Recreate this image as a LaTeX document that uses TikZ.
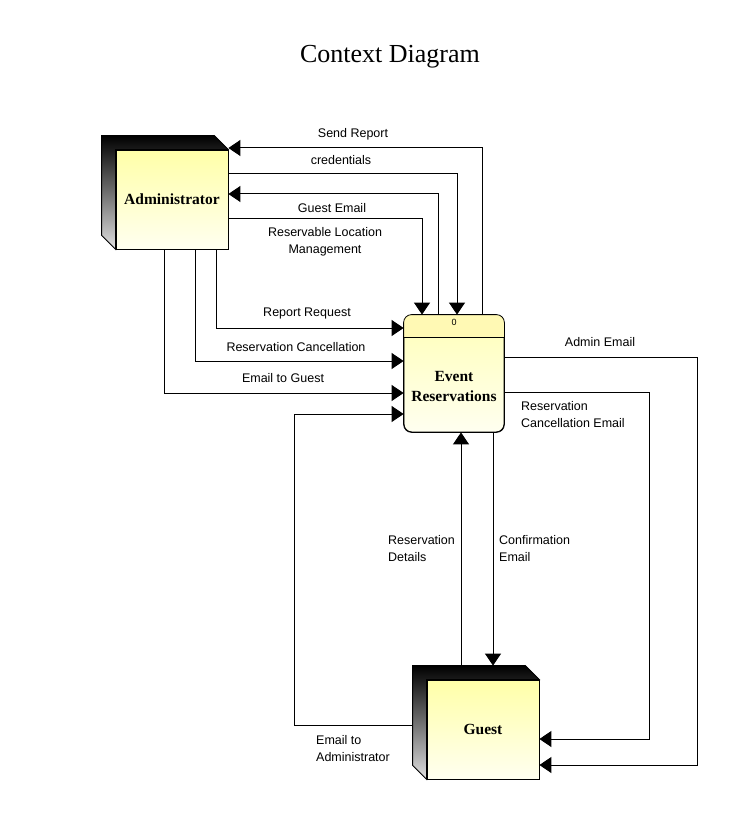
\documentclass[tikz,border=0pt]{standalone}
\usepackage{fontspec}
\setmainfont{Liberation Serif}
\setsansfont{Liberation Sans}
\usetikzlibrary{arrows.meta}

\definecolor{enttop}{HTML}{FFFFA8}
\definecolor{entbot}{HTML}{FFFFF0}
\definecolor{prochead}{HTML}{FFF9B4}
\definecolor{proctop}{HTML}{FFFFB8}

\begin{document}
\begin{tikzpicture}[x=1pt, y=-1pt,
	flow/.style={line width=1pt, -{Triangle[length=12pt,width=16pt]}},
	entity/.style={draw, line width=0.8pt, top color=enttop, bottom color=entbot,
		minimum width=112pt, minimum height=99pt, inner sep=0pt,
		font=\fontsize{15.5}{18}\selectfont\bfseries},
	side/.style={draw, line width=0.8pt, top color=black, bottom color=black!12},
	lbl/.style={font=\sffamily\fontsize{12.5}{17}\selectfont, align=center, inner sep=0pt},
	lbll/.style={lbl, align=left, anchor=west}]

		\useasboundingbox (0,0) rectangle (752,818);

		% Title
		\node[font=\fontsize{26}{30}\selectfont] (title) at (390,57) {Context Diagram};

		% External entity: Administrator
		\node[entity] (admin) at (172,199.5) {Administrator};
		\shadedraw[side] ([shift={(-14pt,14pt)}]admin.north west) -- ([shift={(-14pt,14pt)}]admin.north east)
			-- (admin.north east) -- (admin.north west) -- (admin.south west)
			-- ([shift={(-14pt,14pt)}]admin.south west) -- cycle;

		% External entity: Guest
		\node[entity] (guest) at (483,729.5) {Guest};
		\shadedraw[side] ([shift={(-14pt,14pt)}]guest.north west) -- ([shift={(-14pt,14pt)}]guest.north east)
			-- (guest.north east) -- (guest.north west) -- (guest.south west)
			-- ([shift={(-14pt,14pt)}]guest.south west) -- cycle;
		\coordinate (gside) at ([xshift=-14pt]guest.west);

		% Process 0
		\node[draw, line width=0.8pt, rounded corners=8pt, top color=proctop, bottom color=entbot,
			minimum width=100pt, minimum height=117pt] (proc) at (454,373.5) {};
		\begin{scope}
			\clip[rounded corners=8pt] (proc.north west) rectangle (proc.south east);
			\fill[prochead] (proc.north west) rectangle ([yshift=-23pt]proc.north east);
		\end{scope}
		\draw[line width=0.8pt] ([yshift=-23pt]proc.north west) -- ([yshift=-23pt]proc.north east);
		\draw[line width=0.8pt, rounded corners=8pt] (proc.north west) rectangle (proc.south east);
		\node[font=\sffamily\fontsize{9}{10}\selectfont] (pnum) at ([yshift=-8pt]proc.north) {0};
		\node[font=\fontsize{15.5}{20}\selectfont\bfseries, align=center] (plbl) at (454,386) {Event\\Reservations};

		% Flows between Administrator and the process
		\draw[flow] ([xshift=28pt]proc.north) |- (admin.east |- 0,148);
		\draw[flow] (admin.east |- 0,174) -| ([xshift=3pt]proc.north);
		\draw[flow] ([xshift=-16pt]proc.north) |- (admin.east |- 0,194);
		\draw[flow] (admin.east |- 0,219) -| ([xshift=-32pt]proc.north);
		\draw[flow] ([xshift=44pt]admin.south) |- (proc.west |- 0,328);
		\draw[flow] ([xshift=23pt]admin.south) |- (proc.west |- 0,361);
		\draw[flow] ([xshift=-8pt]admin.south) |- (proc.west |- 0,393);

		% Flows between Guest and the process
		\draw[flow] (gside |- 0,725) -- (294,725) |- (proc.west |- 0,414);
		\draw[flow] ([shift={(-22pt,14pt)}]guest.north) -- ([xshift=7pt]proc.south);
		\draw[flow] ([xshift=39pt]proc.south) -- ([shift={(10pt,14pt)}]guest.north);
		\draw[flow] (proc.east |- 0,357) -| (697,765) -- (guest.east |- 0,765);
		\draw[flow] (proc.east |- 0,392) -| (649,739) -- (guest.east |- 0,739);

		% Flow labels
		\node[lbl] (lsend) at (353,134) {Send Report};
		\node[lbl] (lcred) at (341,160) {credentials};
		\node[lbl] (lgmail) at (332,208) {Guest Email};
		\node[lbl] (lloc) at (325,241.5) {Reservable Location\\Management};
		\node[lbl] (lreq) at (307,313) {Report Request};
		\node[lbl] (lcanc) at (296,347) {Reservation Cancellation};
		\node[lbl] (lemg) at (283,378) {Email to Guest};
		\node[lbl] (lamail) at (600,342) {Admin Email};
		\node[lbll] (lcmail) at (521,414.5) {Reservation\\Cancellation Email};
		\node[lbll] (ldet) at (388,548.5) {Reservation\\Details};
		\node[lbll] (lconf) at (499,548.5) {Confirmation\\Email};
		\node[lbll] (lema) at (316,748.5) {Email to\\Administrator};

	\end{tikzpicture}
\end{document}
